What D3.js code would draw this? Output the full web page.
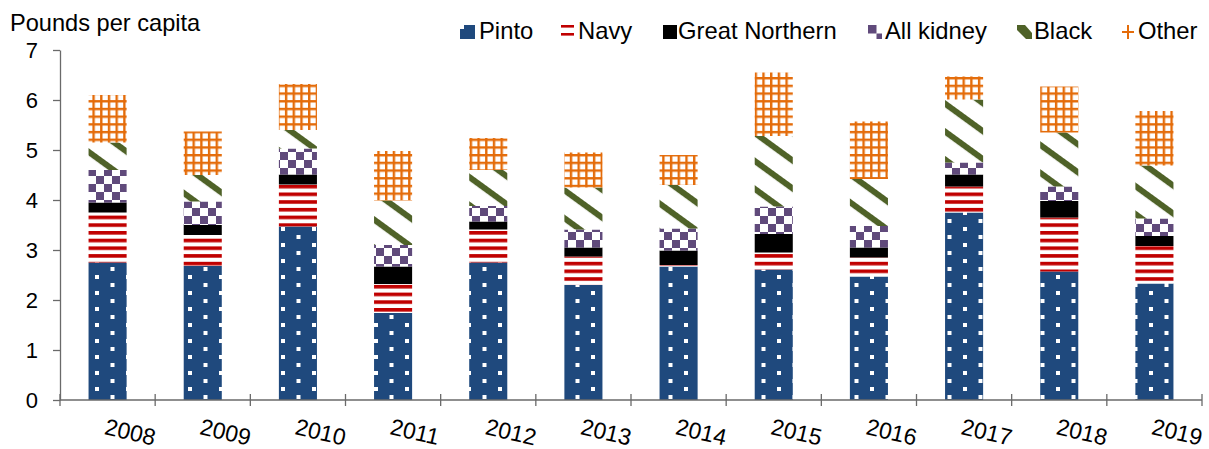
<!DOCTYPE html>
<html>
<head>
<meta charset="utf-8">
<script src="https://cdn.jsdelivr.net/npm/d3@7"></script>
<style>
  html, body { margin: 0; padding: 0; background: #fff; }
  svg { display: block; font-family: "Liberation Sans", Arial, sans-serif; }
</style>
</head>
<body>
<svg id="chart" width="1209" height="449"></svg>
<script>
const years = ["2008","2009","2010","2011","2012","2013","2014","2015","2016","2017","2018","2019"];
const pinto         = [2.75, 2.68, 3.47, 1.74, 2.75, 2.30, 2.67, 2.61, 2.47, 3.75, 2.57, 2.33];
const navy          = [1.00, 0.62, 0.84, 0.58, 0.66, 0.57, 0.03, 0.34, 0.38, 0.52, 1.08, 0.75];
const greatNorthern = [0.20, 0.20, 0.20, 0.35, 0.16, 0.18, 0.29, 0.37, 0.20, 0.24, 0.33, 0.20];
const allKidney     = [0.65, 0.47, 0.52, 0.43, 0.31, 0.36, 0.44, 0.55, 0.43, 0.24, 0.29, 0.35];
const blackBean     = [0.55, 0.53, 0.37, 0.89, 0.72, 0.84, 0.87, 1.41, 0.94, 1.26, 1.08, 1.06];
const other         = [0.95, 0.87, 0.92, 0.99, 0.64, 0.70, 0.60, 1.27, 1.15, 0.46, 0.92, 1.09];
const seriesNames = ["Pinto", "Navy", "Great Northern", "All kidney", "Black", "Other"];
const yTicks = [0, 1, 2, 3, 4, 5, 6, 7];
const yTitle = "Pounds per capita";

const seriesValues = [pinto, navy, greatNorthern, allKidney, blackBean, other];
const keys = ["pinto", "navy", "gn", "kidney", "black", "other"];
const table = years.map((yr, i) => {
  const row = { year: yr };
  keys.forEach((k, j) => row[k] = seriesValues[j][i]);
  return row;
});

const svg = d3.select("#chart");
const defs = svg.append("defs");

const C = { blue: "#1F497D", red: "#C00000", black: "#000000", purple: "#604A7B", green: "#4F6228", orange: "#E46C0A" };

// Patterns
let p = defs.append("pattern").attr("id", "pat-pinto").attr("patternUnits", "userSpaceOnUse")
  .attr("width", 31).attr("height", 16).attr("x", 2).attr("y", 3);
p.append("rect").attr("width", 31).attr("height", 16).attr("fill", C.blue);
p.append("rect").attr("x", 0).attr("y", 0).attr("width", 4).attr("height", 4).attr("fill", "#fff");
p.append("rect").attr("x", 15.5).attr("y", 8).attr("width", 4).attr("height", 4).attr("fill", "#fff");

p = defs.append("pattern").attr("id", "pat-navy").attr("patternUnits", "userSpaceOnUse")
  .attr("width", 8).attr("height", 7.7);
p.append("rect").attr("width", 8).attr("height", 7.7).attr("fill", "#fff");
p.append("rect").attr("y", 0).attr("width", 8).attr("height", 3.6).attr("fill", C.red);

p = defs.append("pattern").attr("id", "pat-gn").attr("patternUnits", "userSpaceOnUse")
  .attr("width", 8).attr("height", 8);
p.append("rect").attr("width", 8).attr("height", 8).attr("fill", C.black);

p = defs.append("pattern").attr("id", "pat-kidney").attr("patternUnits", "userSpaceOnUse")
  .attr("width", 16).attr("height", 16);
p.append("rect").attr("width", 16).attr("height", 16).attr("fill", "#fff");
p.append("rect").attr("x", 0).attr("y", 0).attr("width", 8).attr("height", 8).attr("fill", C.purple);
p.append("rect").attr("x", 8).attr("y", 8).attr("width", 8).attr("height", 8).attr("fill", C.purple);

p = defs.append("pattern").attr("id", "pat-black").attr("patternUnits", "userSpaceOnUse")
  .attr("width", 40).attr("height", 22.6).attr("patternTransform", "rotate(36)");
p.append("rect").attr("width", 40).attr("height", 22.6).attr("fill", "#fff");
p.append("rect").attr("y", 0).attr("width", 40).attr("height", 6).attr("fill", C.green);

p = defs.append("pattern").attr("id", "pat-other").attr("patternUnits", "userSpaceOnUse")
  .attr("width", 7.7).attr("height", 7.7);
p.append("rect").attr("width", 7.7).attr("height", 7.7).attr("fill", "#fff");
p.append("rect").attr("x", 0).attr("y", 0).attr("width", 2.4).attr("height", 7.7).attr("fill", C.orange);
p.append("rect").attr("x", 0).attr("y", 0).attr("width", 7.7).attr("height", 2.4).attr("fill", C.orange);

// Scales
const x = d3.scaleBand().domain(years).range([60, 1202]).paddingInner(0.6).paddingOuter(0.3);
const y = d3.scaleLinear().domain([0, 7]).range([400, 50]);

const stacked = d3.stack().keys(keys)(table);

// Bars
svg.append("g").selectAll("g").data(stacked).join("g")
  .attr("fill", d => `url(#pat-${d.key})`)
  .selectAll("rect").data(d => d).join("rect")
  .attr("x", d => x(d.data.year))
  .attr("width", x.bandwidth())
  .attr("y", d => y(d[1]))
  .attr("height", d => y(d[0]) - y(d[1]));

const axisColor = "#6a6a6a";

// Y axis
const yAxis = svg.append("g").attr("transform", "translate(60,0)")
  .call(d3.axisLeft(y).tickValues(yTicks).tickFormat(d3.format("d")).tickSize(7).tickSizeOuter(0).tickPadding(15));
yAxis.select(".domain").attr("stroke", axisColor).attr("stroke-width", 1.3);
yAxis.selectAll(".tick line").attr("stroke", axisColor).attr("stroke-width", 1.3);
yAxis.selectAll(".tick text").attr("font-size", 22).attr("fill", "#000")
  .attr("font-family", "'Liberation Sans', Arial, sans-serif");

// X axis
const xg = svg.append("g");
xg.append("line").attr("x1", x.range()[0]).attr("x2", x.range()[1])
  .attr("y1", y(0)).attr("y2", y(0)).attr("stroke", axisColor).attr("stroke-width", 1.3);
const bounds = d3.range(years.length + 1).map(i => x.range()[0] + i * x.step());
xg.selectAll("line.tk").data(bounds).join("line").attr("class", "tk")
  .attr("x1", d => d).attr("x2", d => d)
  .attr("y1", y(0) - 6).attr("y2", y(0) + 6)
  .attr("stroke", axisColor).attr("stroke-width", 1.3);
xg.selectAll("text").data(years).join("text")
  .attr("transform", d => `translate(${x(d) + x.bandwidth() / 2 - 4},434) rotate(13)`)
  .attr("font-size", 23).attr("fill", "#000").text(d => d);

// Y title
svg.append("text").attr("x", 10).attr("y", 31).attr("font-size", 23.6).attr("fill", "#000").text(yTitle);

// Legend
const lg = svg.append("g");
const sw = [460, 561, 663, 868, 1017, 1122];
const tx = [479, 578, 678, 885, 1034, 1138];
const sy = 25;
lg.append("rect").attr("x", sw[0]).attr("y", sy).attr("width", 15).attr("height", 14).attr("fill", C.blue);
lg.append("rect").attr("x", sw[0]).attr("y", sy).attr("width", 4).attr("height", 4).attr("fill", "#fff");
lg.append("rect").attr("x", sw[1]).attr("y", sy).attr("width", 13).attr("height", 2.6).attr("fill", C.red);
lg.append("rect").attr("x", sw[1]).attr("y", sy + 8).attr("width", 13).attr("height", 2.6).attr("fill", C.red);
lg.append("rect").attr("x", sw[2]).attr("y", sy).attr("width", 14).attr("height", 14).attr("fill", C.black);
lg.append("rect").attr("x", sw[3]).attr("y", sy).attr("width", 8.5).attr("height", 8.5).attr("fill", C.purple);
lg.append("rect").attr("x", sw[3] + 8.5).attr("y", sy + 8.5).attr("width", 5.5).attr("height", 5.5).attr("fill", C.purple);
lg.append("polygon").attr("points", [[sw[4],sy],[sw[4]+8,sy],[sw[4]+15,sy+8],[sw[4]+15,sy+14],[sw[4]+9,sy+14],[sw[4],sy+5]].map(q => q.join(",")).join(" "))
  .attr("fill", C.green);
lg.append("rect").attr("x", sw[5]).attr("y", sy + 6).attr("width", 12).attr("height", 2).attr("fill", C.orange);
lg.append("rect").attr("x", sw[5] + 5).attr("y", sy).attr("width", 2).attr("height", 14).attr("fill", C.orange);

lg.selectAll("text").data(seriesNames).join("text")
  .attr("x", (d, i) => tx[i]).attr("y", 39).attr("font-size", 23.8).attr("fill", "#000").text(d => d);
</script>
</body>
</html>
